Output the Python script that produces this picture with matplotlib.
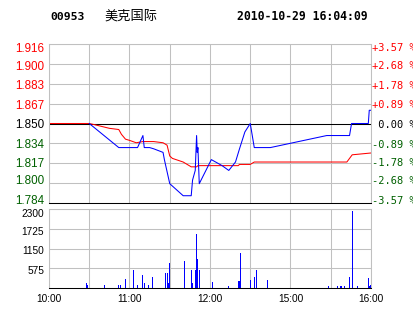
import matplotlib
matplotlib.use("Agg")
import matplotlib.pyplot as plt
from matplotlib.transforms import ScaledTranslation

# ── Data (minutes since 10:00, trading time only) ────────────────────────────
PREV_CLOSE = 1.850
PCT_RANGE = 0.0357

PRICE_T = [30, 52, 66, 70, 71, 75, 78, 85, 86, 90, 98, 100, 106, 107, 109,
           110, 110.5, 111, 112, 121, 129, 134, 139, 142, 146, 150, 153, 165,
           207, 224, 225.5, 238, 238.7, 240]
PRICE = [1.850, 1.830, 1.830, 1.840, 1.830, 1.830, 1.829, 1.826, 1.820, 1.800,
         1.792, 1.790, 1.790, 1.803, 1.811, 1.840, 1.826, 1.830, 1.800, 1.820,
         1.815, 1.811, 1.818, 1.829, 1.843, 1.850, 1.830, 1.830, 1.840, 1.840,
         1.850, 1.850, 1.861, 1.861]

AVG_T = [0, 30, 34, 45, 52, 54, 57, 60, 65, 70, 78, 85, 88, 90, 92, 100, 106,
         110, 111, 141, 142, 150, 153, 222, 226, 240]
AVG = [1.850, 1.850, 1.849, 1.846, 1.845, 1.841, 1.837, 1.836, 1.834, 1.835,
       1.835, 1.834, 1.832, 1.823, 1.821, 1.818, 1.814, 1.814, 1.815, 1.815,
       1.816, 1.816, 1.818, 1.818, 1.824, 1.8255]

VOL_T = [28, 29, 41, 52, 53, 57, 63, 66, 70, 71, 74, 77, 87, 88, 89, 90, 101,
         106, 107, 109, 110, 111, 112, 122, 134, 141, 142, 143, 150, 153, 155,
         163, 208, 215, 217, 218, 220, 224, 226, 230, 238, 239, 240]
VOL = [150, 100, 100, 100, 100, 270, 530, 100, 390, 150, 100, 330, 450, 450,
       150, 740, 800, 530, 150, 530, 1580, 850, 530, 180, 70, 210, 210, 1030,
       240, 330, 530, 240, 70, 70, 70, 70, 70, 330, 2250, 70, 300, 70, 100]

PRICE_LABELS = ["1.784", "1.800", "1.817", "1.834", "1.850",
                "1.867", "1.883", "1.900", "1.916"]
PCT_LABELS = ["-3.57 %", "-2.68 %", "-1.78 %", "-0.89 %", " 0.00 %",
              "+0.89 %", "+1.78 %", "+2.68 %", "+3.57 %"]
VOL_TICKS = [575, 1150, 1725, 2300]
X_LABELS = ["10:00", "", "11:00", "", "12:00", "", "15:00", "", "16:00"]

# ── Style ────────────────────────────────────────────────────────────────────
GRID = "#C0C0C0"
UP = "#FF0000"
DOWN = "#006000"
LW = 0.75
# label nudges in pixels (positive = down), keeps end labels inside the panel
PRICE_NUDGE = [-3.3, -3.5, -0.8, 0.5, 0.4, 0.7, 0.9, 1.5, 3.2]
VOL_NUDGE = [1.4, 2.0, 2.7, 4.0]


def label_color(i):
    if i < 4:
        return DOWN
    if i > 4:
        return UP
    return "black"


def nudge(labels, offsets, fig):
    for lab, dy in zip(labels, offsets):
        lab.set_transform(lab.get_transform()
                          + ScaledTranslation(0, -dy / 100, fig.dpi_scale_trans))


def frame(ax):
    for s in ("left", "right", "top"):
        ax.spines[s].set_color(GRID)
        ax.spines[s].set_linewidth(LW)
    ax.spines["bottom"].set_color("black")
    ax.spines["bottom"].set_linewidth(LW)
    ax.set_xlim(0, 240)
    ax.set_xticks(range(0, 241, 30))
    ax.grid(True, color=GRID, linewidth=LW, zorder=0)
    ax.set_axisbelow(True)
    ax.tick_params(length=0)


fig = plt.figure(figsize=(4.14, 3.14), dpi=100)
W, H = 414, 314
ax_p = fig.add_axes([49 / W, 1 - 203 / H, 322 / W, 159 / H])
ax_v = fig.add_axes([49 / W, 1 - 288 / H, 322 / W, 79 / H])

# ── Price panel ──────────────────────────────────────────────────────────────
frame(ax_p)
step = PREV_CLOSE * PCT_RANGE / 4
yt = [PREV_CLOSE + (k - 4) * step for k in range(9)]
ax_p.set_ylim(yt[0], yt[-1])
ax_p.set_yticks(yt)
ax_p.set_yticklabels(PRICE_LABELS, fontfamily="Liberation Sans", fontsize=8.4)
ax_p.tick_params(axis="y", pad=3.5)
ax_p.set_xticklabels([])
for i, t in enumerate(ax_p.get_yticklabels()):
    t.set_color(label_color(i))
nudge(ax_p.get_yticklabels(), PRICE_NUDGE, fig)

ax_r = ax_p.twinx()
ax_r.set_ylim(yt[0], yt[-1])
ax_r.set_yticks(yt)
ax_r.set_yticklabels(PCT_LABELS, fontfamily="DejaVu Sans Mono", fontsize=7.5)
ax_r.tick_params(length=0, pad=0.5)
for s in ax_r.spines.values():
    s.set_visible(False)
for i, t in enumerate(ax_r.get_yticklabels()):
    t.set_color(label_color(i))
nudge(ax_r.get_yticklabels(), PRICE_NUDGE, fig)

ax_p.axhline(PREV_CLOSE, color="black", linewidth=LW, zorder=1)
ax_p.plot(AVG_T, AVG, color=UP, linewidth=LW, zorder=2)
ax_p.plot(PRICE_T, PRICE, color="#0000FF", linewidth=LW, zorder=3)

# ── Volume panel ─────────────────────────────────────────────────────────────
frame(ax_v)
ax_v.set_ylim(0, VOL_TICKS[-1])
ax_v.set_yticks(VOL_TICKS)
ax_v.set_yticklabels([str(v) for v in VOL_TICKS],
                     fontfamily="Liberation Sans", fontsize=7.3)
ax_v.tick_params(axis="y", pad=3.5)
nudge(ax_v.get_yticklabels(), VOL_NUDGE, fig)
ax_v.set_xticklabels(X_LABELS, fontfamily="Liberation Sans", fontsize=7.3)
ax_v.tick_params(axis="x", pad=4)
ax_v.bar(VOL_T, VOL, width=0.75, color="#0000FF", linewidth=0, zorder=2)

# ── Header ───────────────────────────────────────────────────────────────────
ty = 1 - 16.5 / H
fig.text(50 / W, ty, "00953", fontfamily="DejaVu Sans Mono",
         fontweight="bold", fontsize=8.2, va="center")
fig.text(104 / W, ty, "美克国际", fontfamily="Noto Sans CJK SC",
         fontsize=9.5, va="center")
fig.text(237.5 / W, ty, "2010-10-29 16:04:09", fontfamily="DejaVu Sans Mono",
         fontweight="bold", fontsize=8.3, va="center")

fig.savefig("out.png", dpi=100, facecolor="white")
